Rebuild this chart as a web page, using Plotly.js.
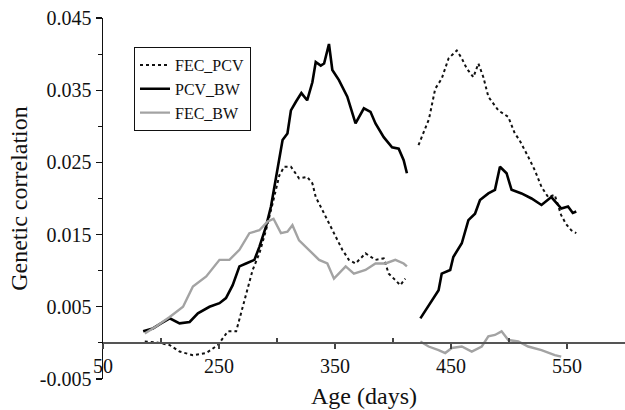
<!DOCTYPE html>
<html>
<head>
<meta charset="utf-8">
<script src="https://cdn.plot.ly/plotly-3.0.1.min.js"></script>
<style>html,body{margin:0;padding:0;background:#fff;}#chart{width:625px;height:410px;}</style>
</head>
<body>
<div id="chart"></div>
<script>
// FEC_PCV (dashed)
var fecPcvDays = [186,199,207.5,216,227.5,239,249,257.6,264.8,269,273.3,279,284.8,290.5,296.2,302,306.2,312,319,326,330.5,333.4,339.1,344.8,350.6,356.3,362,367.7,376.3,384.9,392,396.3,402,406.3,410.6,
  null,
  422,427,431,436.4,442,447.9,452,455,459.3,463.6,469.3,473.6,477.9,482.2,490.8,499.4,505,509,516.5,522.3,528,533.7,539.4,545,549,553.7,558];
var fecPcvVals = [0.0002,0,-0.0003,-0.0012,-0.0017,-0.0014,-0.0003,0.0016,0.0016,0.0041,0.0064,0.0101,0.0124,0.0156,0.0193,0.0232,0.0244,0.0244,0.0228,0.0230,0.0221,0.0202,0.0184,0.0166,0.0147,0.0129,0.0115,0.0110,0.0124,0.0115,0.0117,0.0096,0.0087,0.0080,0.0089,
  null,
  0.0274,0.0295,0.0310,0.0352,0.0366,0.0394,0.0400,0.0405,0.0394,0.0380,0.0368,0.0387,0.0368,0.0341,0.0322,0.0313,0.0290,0.0281,0.0258,0.0239,0.0216,0.0202,0.0205,0.0177,0.0165,0.0156,0.0152];

// PCV_BW (solid black)
var pcvBwDays = [184.6,193,200,207.5,216,224.7,231.8,241.8,250.4,256,261.8,267.6,273.3,280.5,284.8,290.5,294.8,297.6,300.5,304.8,309,312,316.3,321,326,330.5,333.4,337.7,340.6,344.8,347.7,353.4,360.6,364.9,367.7,374.9,380.6,384.9,392,399.2,404.9,409.2,412,
  null,
  423.6,432,439.3,442,449.3,452,459.3,465,470.7,475,482.2,487.9,492.2,497.9,502.2,510.8,519.4,528,536.5,545.1,550.9,555,558];
var pcvBwVals = [0.0016,0.0020,0.0027,0.0034,0.0027,0.0029,0.0041,0.0050,0.0055,0.0062,0.0080,0.0106,0.0110,0.0115,0.0133,0.0161,0.0189,0.0216,0.0245,0.0281,0.0290,0.0322,0.0334,0.0346,0.0336,0.0361,0.0389,0.0384,0.0387,0.0414,0.0378,0.0364,0.0341,0.0320,0.0304,0.0325,0.0320,0.0304,0.0285,0.0271,0.0269,0.0253,0.0235,
  null,
  0.0034,0.0055,0.0073,0.0096,0.0101,0.0119,0.0138,0.0170,0.0179,0.0198,0.0207,0.0212,0.0244,0.0235,0.0212,0.0207,0.0200,0.0191,0.0202,0.0186,0.0189,0.0180,0.0182];

// FEC_BW (grey)
var fecBwDays = [186,196,207.5,219,227.5,239,250.4,259,267.6,276.2,284.8,291.9,297,303.4,309,313.3,319,327.7,336.3,343.4,349.1,359.2,366.3,376.3,384.9,393.5,402,409.2,412,
  null,
  423.6,430.7,439.3,445,450.7,459.3,467.9,476.5,482.2,487.9,493.6,499.4,508,516.5,528,539.5,545];
var fecBwVals = [0.0013,0.0023,0.0036,0.0050,0.0078,0.0092,0.0115,0.0115,0.0129,0.0152,0.0156,0.0168,0.0172,0.0152,0.0154,0.0163,0.0142,0.0129,0.0115,0.0110,0.0089,0.0106,0.0096,0.0101,0.0110,0.0110,0.0115,0.0110,0.0106,
  null,
  0.0002,-0.0005,-0.0010,-0.0014,-0.0007,-0.0005,-0.0012,-0.0005,0.0009,0.0011,0.0016,0.0004,0.0002,-0.0005,-0.0010,-0.0017,-0.0019];

var xTickVals = [150,250,350,450,550];
var xTickText = ['50','250','350','450','550'];
var yTickVals = [-0.005,0.005,0.015,0.025,0.035,0.045];
var yTickText = ['-0.005','0.005','0.015','0.025','0.035','0.045'];

var font = 'Liberation Serif, Times New Roman, serif';

var traces = [
  {x: fecPcvDays, y: fecPcvVals, name: 'FEC_PCV', type: 'scatter', mode: 'lines',
   line: {color: '#111', width: 2, dash: '3px,3px'}, connectgaps: false},
  {x: pcvBwDays, y: pcvBwVals, name: 'PCV_BW', type: 'scatter', mode: 'lines',
   line: {color: '#000', width: 2.6}, connectgaps: false},
  {x: fecBwDays, y: fecBwVals, name: 'FEC_BW', type: 'scatter', mode: 'lines',
   line: {color: '#a3a3a3', width: 2.4}, connectgaps: false}
];

var layout = {
  width: 625, height: 410,
  margin: {l: 103, r: 0, t: 18, b: 31},
  paper_bgcolor: '#fff', plot_bgcolor: '#fff',
  font: {family: font, color: '#111', size: 20},
  showlegend: true,
  legend: {x: 0.059, y: 0.92, xanchor: 'left', yanchor: 'top',
    bordercolor: '#111', borderwidth: 1.2, bgcolor: '#fff',
    font: {family: font, size: 16, color: '#111'}, tracegroupgap: 0},
  xaxis: {
    range: [150, 600], anchor: 'free', position: 0.1,
    showgrid: false, zeroline: false, showline: true, linecolor: '#555', linewidth: 2,
    tickmode: 'array', tickvals: xTickVals, ticktext: xTickText,
    ticks: 'outside', ticklen: 5, tickcolor: '#444', tickwidth: 1.2,
    minor: {tickvals: [200,300,400,500], ticks: 'inside', ticklen: 4, tickcolor: '#444'},
    tickfont: {family: font, size: 20, color: '#111'},
    title: {text: 'Age (days)', font: {family: font, size: 24, color: '#111'}, standoff: 10}
  },
  yaxis: {
    range: [-0.005, 0.045], showgrid: false, zeroline: false,
    showline: true, linecolor: '#111', linewidth: 1.5,
    tickmode: 'array', tickvals: yTickVals, ticktext: yTickText,
    ticks: 'outside', ticklen: 6, tickcolor: '#111', tickwidth: 1.2,
    minor: {tickvals: [0, 0.01, 0.02, 0.03, 0.04], ticks: 'outside', ticklen: 4, tickcolor: '#111'},
    tickfont: {family: font, size: 20, color: '#111'},
    title: {text: 'Genetic correlation', font: {family: font, size: 24, color: '#111'}, standoff: 5}
  }
};

Plotly.newPlot('chart', traces, layout, {displayModeBar: false, staticPlot: true});
</script>
</body>
</html>
